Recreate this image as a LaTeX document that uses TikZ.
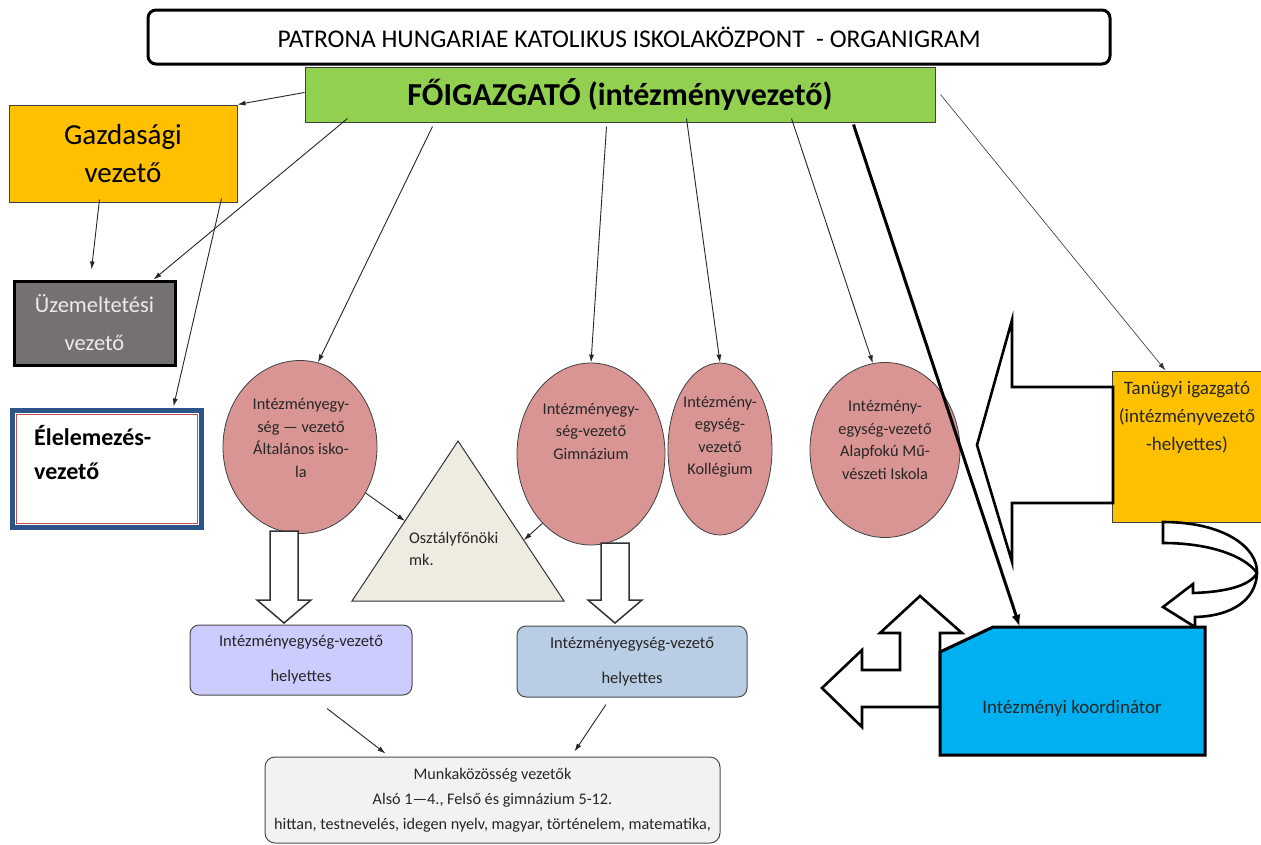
\documentclass[tikz,border=0pt]{standalone}
\usepackage{fontspec}
\setmainfont{Carlito}
\usetikzlibrary{shapes.geometric,arrows.meta,calc}
\definecolor{fogreen}{HTML}{92D050}
\definecolor{orangeB}{HTML}{FFC000}
\definecolor{grayB}{HTML}{767171}
\definecolor{pinkE}{HTML}{D99594}
\definecolor{triC}{HTML}{EEECE1}
\definecolor{lavB}{HTML}{CCCCFF}
\definecolor{lblueB}{HTML}{B9CDE5}
\definecolor{mkB}{HTML}{F2F2F2}
\definecolor{cyanB}{HTML}{00B0F0}
\definecolor{frameBlue}{HTML}{2D5489}
\definecolor{frameRed}{HTML}{C0504D}
\newcommand\fsz[2]{\fontsize{#1}{#2}\selectfont}
\begin{document}
\begin{tikzpicture}[x=1pt,y=-1pt,
  conn/.style={draw=black!85, line width=0.9pt, -{Latex[length=8pt,width=5pt]}},
  thinconn/.style={draw=black!80, line width=0.6pt, -{Latex[length=8pt,width=5pt]}},
  thickconn/.style={draw=black, line width=3pt, -{Latex[length=12pt,width=9pt]}},
  blockarrow/.style={draw=black, line width=2.6pt, fill=white, line join=miter},
  downarrow/.style={draw=black!80, line width=1.5pt, fill=white, line join=miter},
  rectbox/.style={rectangle, inner sep=0pt, align=center},
  ellbox/.style={ellipse, draw=black!75, line width=0.8pt, fill=pinkE, inner sep=0pt},
  elltext/.style={align=center, font=\fsz{16.3}{22.5}, text=black!85, inner sep=0pt},
  depbox/.style={rectangle, rounded corners=9pt, draw=black!70, line width=1pt, inner sep=0pt, align=center, font=\fsz{16.5}{35}, text=black!85}
]
\useasboundingbox (0,0) rectangle (1261,844);
\fill[white] (0,0) rectangle (1261,844);

% title
\node[rectbox, draw=black, line width=3pt, rounded corners=8pt, minimum width=962pt, minimum height=54pt, font=\fsz{25.5}{30}] (title) at (629,37) {PATRONA HUNGARIAE KATOLIKUS ISKOLAKÖZPONT\ \ - ORGANIGRAM};

% main director
\node[rectbox, draw=black!75, line width=1pt, fill=fogreen, minimum width=630pt, minimum height=55pt, font=\bfseries\fsz{32}{36}] (fo) at (620,94.5) {FŐIGAZGATÓ (intézményvezető)};

% left column
\node[rectbox, draw=black!75, line width=1pt, fill=orangeB, minimum width=228pt, minimum height=97pt, font=\fsz{29}{38}] (gv) at (123,153.5) {Gazdasági\\vezető};
\node[rectbox, draw=black, line width=3pt, fill=grayB, minimum width=161pt, minimum height=84pt, font=\fsz{22.5}{38}, text=black!8] (uz) at (94.5,323) {Üzemeltetési\\vezető};
\node[rectbox, draw=frameBlue, line width=5pt, fill=white, minimum width=189pt, minimum height=117pt] (el) at (106.5,468.5) {};
\draw[frameRed, line width=0.8pt] ($(el.south west)+(6.5,-6.5)$) rectangle ($(el.north east)+(-6.5,6.5)$);
\node[anchor=west, align=left, inner sep=0pt, font=\bfseries\fsz{24}{34}] (eltext) at (34,453) {Élelemezés-\\vezető};

% ellipses
\node[ellbox, minimum width=154pt, minimum height=173pt] (e1) at (300,447) {};
\node[ellbox, minimum width=148pt, minimum height=182pt] (e2) at (591,454) {};
\node[ellbox, minimum width=104pt, minimum height=172pt] (e3) at (720,449) {};
\node[ellbox, minimum width=150pt, minimum height=175pt] (e4) at (885,450) {};
\node[elltext] (t1) at (301,438) {Intézményegy-\\ség — vezető\\Általános isko-\\la};
\node[elltext] (t2) at (591,431) {Intézményegy-\\ség-vezető\\Gimnázium};
\node[elltext] (t3) at (720,437) {Intézmény-\\egység-\\vezető\\Kollégium};
\node[elltext] (t4) at (885,440) {Intézmény-\\egység-vezető\\Alapfokú Mű-\\vészeti Iskola};

% triangle
\coordinate (tL) at (352,601);
\coordinate (tA) at (458,441);
\coordinate (tR) at (564,601);
\draw[fill=triC, draw=black!80, line width=1pt] (tL) -- (tA) -- (tR) -- cycle;
\node[anchor=west, align=left, inner sep=0pt, font=\fsz{16.3}{22}, text=black!85] (ofk) at (409,549) {Osztályfőnöki\\mk.};

% down block arrows
\draw[downarrow] (270,531) -- (298,531) -- (298,600) -- (311,600) -- (284,623) -- (257,600) -- (270,600) -- cycle;
\draw[downarrow] (601,543) -- (629,543) -- (629,600) -- (642,600) -- (615,623) -- (588,600) -- (601,600) -- cycle;

% deputies
\node[depbox, fill=lavB, minimum width=222pt, minimum height=70pt] (d1) at (301,660) {Intézményegység-vezető\\helyettes};
\node[depbox, fill=lblueB, minimum width=230pt, minimum height=71pt] (d2) at (632,661.5) {Intézményegység-vezető\\helyettes};

% bottom box
\node[depbox, fill=mkB, rounded corners=10pt, minimum width=455pt, minimum height=86pt, font=\fsz{16.2}{25}] (mk) at (492.5,800) {Munkaközösség vezetők\\Alsó 1—4., Felső és gimnázium 5-12.\\hittan, testnevelés, idegen nyelv, magyar, történelem, matematika,};

% Tanugyi box
\node[rectbox, draw=black!75, line width=1pt, fill=orangeB, minimum width=160pt, minimum height=151pt] (tg) at (1192,446.5) {};
\node[align=center, inner sep=0pt, font=\fsz{19}{28}, text=black!85] (tgtext) at (1187,417) {Tanügyi igazgató\\(intézményvezető\\-helyettes)};

% big left arrow from Tanugyi
\draw[blockarrow] (1113,387) -- (1012,387) -- (1012,320) -- (977,445) -- (1012,562) -- (1012,503) -- (1113,503) -- cycle;

% curved arrow
\draw[blockarrow] (1163,522) .. controls (1225,522) and (1258,548) .. (1257,573)
  .. controls (1256,600) and (1232,616) .. (1195,617) -- (1195,627) -- (1163,607) -- (1193,584) -- (1193,593)
  .. controls (1225,592) and (1250,586) .. (1257,573)
  .. controls (1245,556) and (1210,543) .. (1163,543) -- cycle;

% double block arrow
\draw[blockarrow] (940,707) -- (862,707) -- (862,727) -- (822,688) -- (862,650) -- (862,670) -- (900,670) -- (900,633) -- (880,633) -- (920,596) -- (962,633) -- (940,633) -- (940,660) -- cycle;

% coordinator
\draw[fill=cyanB, draw=black, line width=3pt, line join=miter] (940,652) -- (993,627) -- (1205,627) -- (1205,755) -- (940,755) -- cycle;
\node[rectbox, minimum width=265pt, minimum height=128pt] (ko) at (1072.5,691) {};
\node[inner sep=0pt, font=\fsz{19}{22}, text=black!85] (kotext) at (1072,708) {Intézményi koordinátor};

% connectors
\draw[conn] ($(fo.west)+(0,-2)$) -- (gv.north east);
\draw[conn] ($(fo.south west)+(43,-4)$) -- ($(uz.north west)+(141,0)$);
\draw[conn] ($(fo.south west)+(128,4)$) -- (e1.78);
\draw[conn] ($(fo.south west)+(302,4)$) -- (e2.north);
\draw[conn] ($(fo.south west)+(382,-4)$) -- (e3.north);
\draw[conn] ($(fo.south west)+(487,-4)$) -- (e4.98);
\draw[thickconn] ($(fo.south west)+(549,2)$) -- ($(ko.north west)+(80,0)$);
\draw[thinconn] ($(fo.east)+(5,0)$) -- ($(tg.north west)+(54,0)$);
\draw[conn] ($(gv.south west)+(91,-3)$) -- ($(uz.north west)+(79,-10)$);
\draw[conn] ($(gv.south west)+(213,-4)$) -- ($(el.north west)+(164,-1)$);
\draw[conn] (e1.-35) -- ($(tL)!0.5!(tA)$);
\draw[conn] (e2.-125) -- ($(tA)!0.62!(tR)$);
\draw[conn] ($(d1.south)+(26,13)$) -- ($(mk.north west)+(121,-3)$);
\draw[conn] ($(d2.south)+(-26,7)$) -- ($(mk.north west)+(310,-5)$);
\end{tikzpicture}
\end{document}
